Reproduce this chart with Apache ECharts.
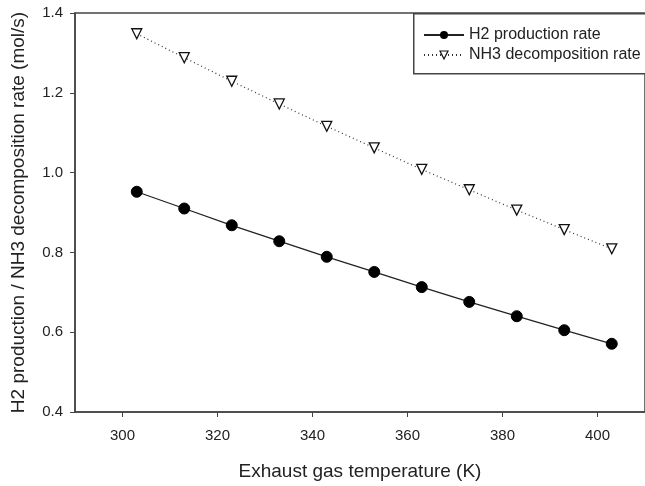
<!DOCTYPE html>
<html>
<head>
<meta charset="utf-8">
<script src="https://cdn.jsdelivr.net/npm/echarts@6/dist/echarts.min.js"></script>
<style>html,body{margin:0;padding:0;background:#fff}#c{width:645px;height:486px}</style>
</head>
<body>
<div id="c"></div>
<script>
const temperatures = [303, 313, 323, 333, 343, 353, 363, 373, 383, 393, 403];
const h2Production = [0.952, 0.910, 0.868, 0.828, 0.789, 0.751, 0.713, 0.676, 0.640, 0.605, 0.571];
const nh3Decomposition = [1.348, 1.288, 1.229, 1.172, 1.116, 1.062, 1.008, 0.957, 0.906, 0.857, 0.809];
const xTicks = [300, 320, 340, 360, 380, 400];
const yTicks = [0.4, 0.6, 0.8, 1.0, 1.2, 1.4];
const seriesNames = ['H2 production rate', 'NH3 decomposition rate'];

const font = 'Liberation Sans, Arial, sans-serif';
const ink = '#222';
const chart = echarts.init(document.getElementById('c'));
chart.setOption({
  animation: false,
  backgroundColor: '#fff',
  grid: { left: 75, top: 13, right: -3, bottom: 73, show: true, borderColor: '#444', borderWidth: 1.5 },
  graphic: [{
    type: 'rect', left: 413, top: 13, z: 50,
    shape: { width: 240, height: 60 },
    style: { fill: '#fff', stroke: '#444', lineWidth: 1.5 }
  }],
  legend: {
    orient: 'vertical', left: 418, top: 25, z: 60,
    itemWidth: 40, itemHeight: 10, itemGap: 4, padding: [2, 5],
    textStyle: { fontFamily: font, fontSize: 16, color: ink },
    data: [
      { name: seriesNames[0] },
      { name: seriesNames[1], itemStyle: { color: '#fff', borderColor: '#111', borderWidth: 1.2 } }
    ]
  },
  xAxis: {
    type: 'value', min: 290, max: 410,
    name: 'Exhaust gas temperature (K)', nameLocation: 'middle', nameGap: 50,
    nameTextStyle: { fontFamily: font, fontSize: 19, color: ink },
    axisLine: { lineStyle: { color: '#444', width: 1.5 } },
    axisTick: { customValues: xTicks, length: 5, lineStyle: { color: '#444' } },
    axisLabel: { customValues: xTicks, margin: 16, fontFamily: font, fontSize: 15, color: ink },
    splitLine: { show: false }
  },
  yAxis: {
    type: 'value', min: 0.4, max: 1.4,
    name: 'H2 production / NH3 decomposition rate (mol/s)', nameLocation: 'middle', nameGap: 47,
    nameTextStyle: { fontFamily: font, fontSize: 19, color: ink },
    axisLine: { show: true, lineStyle: { color: '#444', width: 1.5 } },
    axisTick: { show: true, customValues: yTicks, length: 5, lineStyle: { color: '#444' } },
    axisLabel: { customValues: yTicks, margin: 12, fontFamily: font, fontSize: 15, color: ink,
      formatter: v => v.toFixed(1) },
    splitLine: { show: false }
  },
  series: [
    {
      name: seriesNames[0], type: 'line',
      data: temperatures.map((t, i) => [t, h2Production[i]]),
      symbol: 'circle', symbolSize: 11,
      lineStyle: { color: ink, width: 1.3 },
      itemStyle: { color: '#000', borderColor: '#000' }
    },
    {
      name: seriesNames[1], type: 'line',
      data: temperatures.map((t, i) => [t, nh3Decomposition[i]]),
      symbol: 'triangle', symbolSize: 10, symbolRotate: 180,
      lineStyle: { color: '#333', width: 1.2, type: [1, 3] },
      itemStyle: { color: '#fff', borderColor: '#111', borderWidth: 1.3 }
    }
  ]
});
</script>
</body>
</html>
